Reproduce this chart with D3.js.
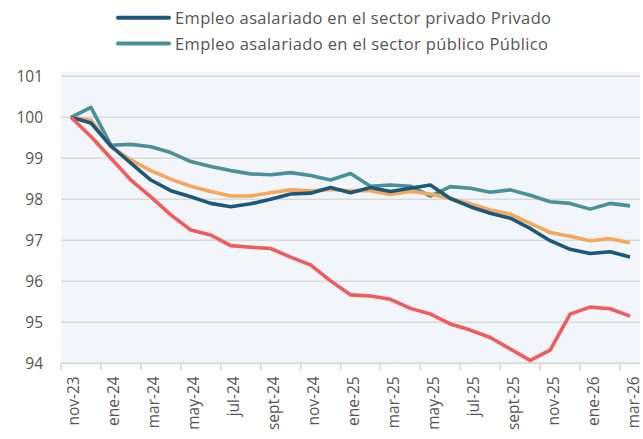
<!DOCTYPE html>
<html><head><meta charset="utf-8">
<script src="https://cdn.jsdelivr.net/npm/d3@7"></script>
<style>body{margin:0;background:#fff}svg{display:block}text{font-family:"Open Sans",sans-serif;fill:#555}</style>
</head><body><svg id="c" width="643" height="439"></svg>
<script>
const months = ["nov-23","dic-23","ene-24","feb-24","mar-24","abr-24","may-24","jun-24","jul-24","ago-24","sept-24","oct-24","nov-24","dic-24","ene-25","feb-25","mar-25","abr-25","may-25","jun-25","jul-25","ago-25","sept-25","oct-25","nov-25","dic-25","ene-26","feb-26","mar-26"];
const privado = [100,99.86,99.3,98.88,98.47,98.21,98.06,97.90,97.82,97.89,98.00,98.13,98.15,98.29,98.16,98.29,98.19,98.27,98.35,98.02,97.82,97.66,97.54,97.29,96.99,96.78,96.68,96.72,96.59];
const publico = [100,100.24,99.32,99.34,99.28,99.14,98.92,98.80,98.70,98.62,98.60,98.65,98.58,98.47,98.63,98.32,98.35,98.32,98.08,98.31,98.27,98.17,98.23,98.10,97.94,97.90,97.76,97.90,97.84];
const naranja = [100,99.93,99.28,98.96,98.70,98.49,98.32,98.19,98.08,98.08,98.16,98.23,98.21,98.24,98.21,98.21,98.12,98.19,98.13,98.02,97.89,97.74,97.64,97.41,97.19,97.10,96.99,97.04,96.94];
const rojo = [100,99.53,99.0,98.47,98.06,97.62,97.25,97.13,96.87,96.83,96.80,96.59,96.40,96.01,95.67,95.64,95.56,95.34,95.20,94.96,94.81,94.63,94.35,94.07,94.32,95.20,95.37,95.33,95.15];
const yTicks = [94,95,96,97,98,99,100,101];
const legendLabels = ["Empleo asalariado en el sector privado Privado","Empleo asalariado en el sector público Público"];

const svg = d3.select("#c");
const x = d3.scaleBand().domain(months).range([61,640]).padding(0);
const y = d3.scaleLinear().domain([94,101]).range([363.3,76.3]);
const colors = {privado:"#1d5878", publico:"#4a9098", naranja:"#f5a85a", rojo:"#ef5c5c"};

svg.append("rect").attr("x",61).attr("y",72).attr("width",579).attr("height",y(94)-72).attr("fill","#f2f6fa");

svg.append("g").selectAll("line").data(yTicks.filter(d=>d>94)).join("line")
  .attr("x1",61).attr("x2",640).attr("y1",d=>y(d)).attr("y2",d=>y(d))
  .attr("stroke","#d9d9d9").attr("stroke-width",1.5);
svg.append("g").selectAll("text").data(yTicks).join("text")
  .attr("x",43).attr("y",d=>y(d)).attr("text-anchor","end").attr("dominant-baseline","central")
  .style("font-size","15.5px").text(d=>d);
svg.append("line").attr("x1",61).attr("x2",640).attr("y1",y(94)).attr("y2",y(94)).attr("stroke","#d4d4d4").attr("stroke-width",1.5);
const labeled = months.filter((m,i)=>i%2===0);
svg.append("g").selectAll("line").data(labeled).join("line")
  .attr("x1",d=>x(d)).attr("x2",d=>x(d)).attr("y1",y(94)).attr("y2",y(94)+7)
  .attr("stroke","#d4d4d4").attr("stroke-width",1.5);
svg.append("g").selectAll("text").data(labeled).join("text")
  .attr("transform",d=>`translate(${x(d)+x.bandwidth()/2+2.5},${y(94)+13}) rotate(-90)`)
  .attr("text-anchor","end").attr("dominant-baseline","central")
  .style("font-size","15.5px").text(d=>d);

const line = d3.line().x((d,i)=>x(months[i])+x.bandwidth()/2).y(d=>y(d));
const series = [["publico",publico],["naranja",naranja],["privado",privado],["rojo",rojo]];
series.forEach(([k,v])=>{
  svg.append("path").datum(v).attr("d",line).attr("fill","none")
    .attr("stroke",colors[k]).attr("stroke-width",3.6).attr("stroke-linejoin","round");
});

const lg = [[legendLabels[0],colors.privado,17.7,376],[legendLabels[1],colors.publico,43.5,373]];
lg.forEach(([t,c,yy,w])=>{
  svg.append("line").attr("x1",118).attr("x2",169).attr("y1",yy).attr("y2",yy)
    .attr("stroke",c).attr("stroke-width",4).attr("stroke-linecap","round");
  const tx = svg.append("text").attr("x",175).attr("y",yy).attr("dominant-baseline","central")
    .style("font-size","16.5px").text(t);
  const len = tx.node().getComputedTextLength();
  tx.style("letter-spacing", ((w-len)/(t.length-1)).toFixed(3)+"px");
});
</script></body></html>
